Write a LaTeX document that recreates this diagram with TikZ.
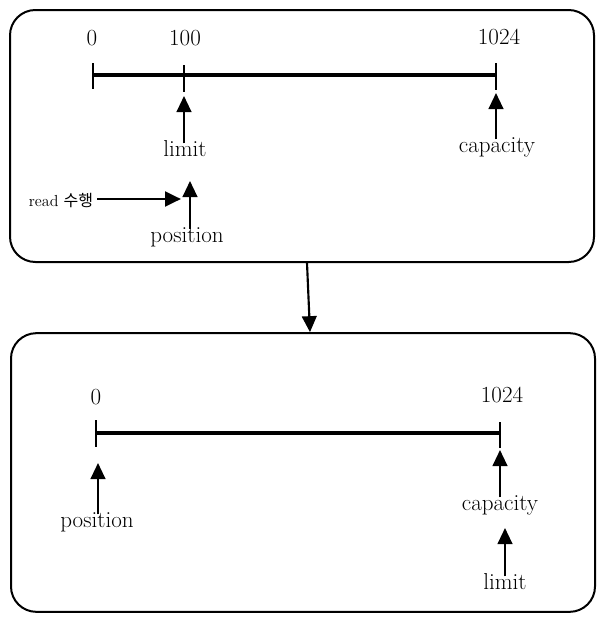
\documentclass[tikz,border=0pt]{standalone}
\usepackage{fontspec}
\newfontfamily\krfont{Noto Sans CJK KR}
\usetikzlibrary{arrows.meta}

\tikzset{every picture/.style={line width=0.75pt}}
\tikzset{
  panel/.style={draw, line width=1.5pt, rounded corners=19pt, fill=white},
  axis/.style={line width=2.6pt},
  tick/.style={line width=1.6pt},
  ptr/.style={line width=1.6pt, -{Triangle[length=12pt,width=11pt]}},
  lbl/.style={font=\LARGE, text height=1.5ex, text depth=.25ex, inner sep=2pt, outer sep=1.5pt},
}

\begin{document}
\begin{tikzpicture}[x=0.75pt,y=0.75pt,yscale=-1,xscale=1]
\useasboundingbox (0,0) rectangle (603,621);

%Shape: Rectangle [id:before]
\node [panel, minimum width=438pt, minimum height=189pt] (before) at (302,136) {};
%Shape: Rectangle [id:after]
\node [panel, minimum width=438pt, minimum height=209pt] (after) at (303,472.5) {};

%Straight Lines [id:axis before]
\draw [axis] (93,75) -- (496,75) ;
\draw [tick] (93,63) -- (93,89) ;
\draw [tick] (184,65) -- (184,92) ;
\draw [tick] (496,63) -- (496,90) ;
%Straight Lines [id:axis after]
\draw [axis] (96,433) -- (500,433) ;
\draw [tick] (96,420) -- (96,447) ;
\draw [tick] (500,422) -- (500,448) ;

% Text Node
\node (zeroA) [lbl] at (92,42) {0};
% Text Node
\node (hundredA) [lbl] at (185,42) {100};
% Text Node
\node (capA) [lbl] at (499,41) {1024};
% Text Node
\node (limitA) [lbl] at (185,153) {limit};
% Text Node
\node (capacityA) [lbl] at (497,149) {capacity};
% Text Node
\node (positionA) [lbl] at (187,239) {position};
% Text Node
\node (read) [font=\large, inner sep=2pt, outer sep=1pt] at (61,201) {read {\krfont 수행}};

% Text Node
\node (zeroB) [lbl] at (96,401) {0};
% Text Node
\node (capB) [lbl] at (502,399) {1024};
% Text Node
\node (positionB) [lbl] at (97,524) {position};
% Text Node
\node (capacityB) [lbl] at (500,507) {capacity};
% Text Node
\node (limitB) [lbl] at (505,586) {limit};

% arrow tips
\coordinate (limitAtip) at (184,96);
\coordinate (capacityAtip) at (496,93);
\coordinate (positionAtip) at (190,181);
\coordinate (readtip) at (181,199);
\coordinate (positionBtip) at (98,463);
\coordinate (capacityBtip) at (500,450);
\coordinate (limitBtip) at (505,528);

%Straight Lines [id:arrows]
\draw [ptr] (limitAtip |- limitA.north) -- (limitAtip) ;
\draw [ptr] (capacityAtip |- capacityA.north) -- (capacityAtip) ;
\draw [ptr] (positionAtip |- positionA.north) -- (positionAtip) ;
\draw [ptr, line width=2.2pt] (read.east |- readtip) -- (readtip) ;
\draw [ptr] (positionBtip |- positionB.north) -- (positionBtip) ;
\draw [ptr] (capacityBtip |- capacityB.north) -- (capacityBtip) ;
\draw [ptr] (limitBtip |- limitB.north) -- (limitBtip) ;
\draw [ptr] ([xshift=3.75pt]before.south) -- ([xshift=5.25pt]after.north) ;

\end{tikzpicture}
\end{document}
